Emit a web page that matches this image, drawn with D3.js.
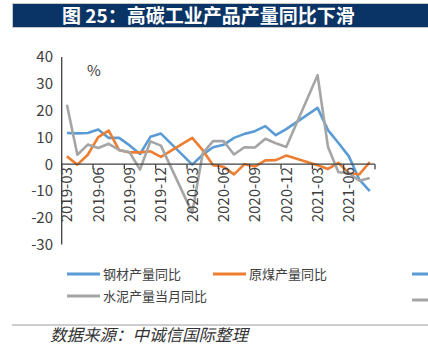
<!DOCTYPE html>
<html>
<head>
<meta charset="utf-8">
<script src="https://cdn.jsdelivr.net/npm/d3@7"></script>
<style>
  body { margin: 0; background: #fff; }
  text { font-family: "Noto Sans CJK SC", "Noto Sans", sans-serif; }
</style>
</head>
<body>
<div id="chart"></div>
<script>
const months = ["2019-03", "2019-04", "2019-05", "2019-06", "2019-07", "2019-08", "2019-09", "2019-10", "2019-11", "2019-12",
    "2020-01", "2020-02", "2020-03", "2020-04", "2020-05", "2020-06", "2020-07", "2020-08", "2020-09", "2020-10",
    "2020-11", "2020-12", "2021-01", "2021-02", "2021-03", "2021-04", "2021-05", "2021-06", "2021-07", "2021-08"];

// 1-2月无单月数据
const steel = [11.6, 11.5, 11.6, 12.9, 9.8, 9.8, 7.0, 3.8, 10.2, 11.4, null, null,
    -0.2, 3.5, 6.3, 7.2, 9.8, 11.3, 12.3, 14.2, 10.8, 13.1, null, null,
    21.0, 12.7, 7.9, 2.9, -5.8, -10.1];
const coal = [2.9, -0.2, 3.5, 10.1, 12.5, 5.2, 4.4, 4.4, 4.8, 2.7, null, null,
    9.8, 5.2, -0.4, -1.0, -3.8, 0.0, -0.9, 1.4, 1.5, 3.2, null, null,
    -0.4, -1.8, 0.5, -3.4, -3.8, 0.8];
const cement = [22.2, 3.5, 7.3, 6.0, 7.6, 5.3, 4.4, -2.0, 8.5, 6.9, null, null,
    -18.2, 4.0, 8.6, 8.6, 3.6, 6.3, 6.2, 9.5, 7.8, 6.4, null, null,
    33.2, 6.4, -3.0, -3.3, -6.2, -5.2];

const yTicks = [40, 30, 20, 10, 0, -10, -20, -30];

const series = [
    { name: '钢材产量同比', values: steel, color: '#5b9bd5' },
    { name: '原煤产量同比', values: coal, color: '#ed7d31' },
    { name: '水泥产量当月同比', values: cement, color: '#a5a5a5' }
];

const width = 428, height = 347;

const svg = d3.select('#chart')
    .append('svg')
    .attr('width', width)
    .attr('height', height);

// title bar
svg.append('rect')
    .attr('x', 12.5).attr('y', 3.5)
    .attr('width', 420).attr('height', 24)
    .attr('fill', '#0b3466')
    .attr('stroke', '#c8c8c8');

svg.append('text')
    .attr('x', 62).attr('y', 22.5)
    .attr('fill', '#fff')
    .attr('font-size', '19px')
    .attr('font-weight', 'bold')
    .text('图 25：高碳工业产品产量同比下滑');

const x = d3.scaleBand()
    .domain(months)
    .range([61.7, 375]);

const y = d3.scaleLinear()
    .domain([-30, 40])
    .range([244.5, 57]);

const cx = m => x(m) + x.bandwidth() / 2;

// y labels
svg.append('g')
    .selectAll('text')
    .data(yTicks)
    .enter()
    .append('text')
    .attr('x', 53)
    .attr('y', d => y(d))
    .attr('dy', '0.36em')
    .attr('text-anchor', 'end')
    .attr('font-size', '15px')
    .attr('fill', '#404040')
    .text(d => d);

// y axis line
svg.append('line')
    .attr('x1', x.range()[0]).attr('x2', x.range()[0])
    .attr('y1', y(40)).attr('y2', y(-30))
    .attr('stroke', '#404040')
    .attr('stroke-width', 1.3);

svg.append('text')
    .attr('x', 87).attr('y', 76)
    .attr('font-size', '15px')
    .attr('fill', '#404040')
    .text('%');

// lines
const line = d3.line()
    .x(d => cx(d.m))
    .y(d => y(d.v))
    .curve(d3.curveLinear);

series.forEach(s => {
    const pts = months.map((m, i) => ({ m: m, v: s.values[i] }))
        .filter(d => d.v !== null);
    svg.append('path')
        .datum(pts)
        .attr('d', line)
        .attr('fill', 'none')
        .attr('stroke', s.color)
        .attr('stroke-width', 2.6)
        .attr('stroke-linejoin', 'round');
});

// x axis
const tickMonths = months.filter((m, i) => i % 3 === 0);
const tickX = tickMonths.map(m => x(m)).concat([x.range()[1]]);

svg.append('line')
    .attr('x1', x.range()[0]).attr('x2', x.range()[1])
    .attr('y1', y(0)).attr('y2', y(0))
    .attr('stroke', '#404040')
    .attr('stroke-width', 1.3);

svg.append('g')
    .selectAll('line')
    .data(tickX)
    .enter()
    .append('line')
    .attr('x1', d => d).attr('x2', d => d)
    .attr('y1', y(0)).attr('y2', y(0) + 5)
    .attr('stroke', '#404040')
    .attr('stroke-width', 1.3);

svg.append('g')
    .selectAll('text')
    .data(tickMonths)
    .enter()
    .append('text')
    .attr('transform', d => `translate(${x(d) + 10.5},${y(0) + 3}) rotate(-90)`)
    .attr('text-anchor', 'end')
    .attr('font-size', '15px')
    .attr('fill', '#404040')
    .text(d => d);

// legend
const legendPos = [
    { x: 67, y: 274 },
    { x: 213, y: 274 },
    { x: 67, y: 296 }
];

series.forEach((s, i) => {
    const p = legendPos[i];
    svg.append('line')
        .attr('x1', p.x).attr('x2', p.x + 33)
        .attr('y1', p.y).attr('y2', p.y)
        .attr('stroke', s.color)
        .attr('stroke-width', 3);
    svg.append('text')
        .attr('x', p.x + 36).attr('y', p.y)
        .attr('dy', '0.36em')
        .attr('font-size', '13px')
        .attr('fill', '#404040')
        .text(s.name);
});

// cut-off legend swatches at the right edge
[{ c: '#5b9bd5', y: 274 }, { c: '#a5a5a5', y: 300 }].forEach(d => {
    svg.append('line')
        .attr('x1', 412).attr('x2', 445)
        .attr('y1', d.y).attr('y2', d.y)
        .attr('stroke', d.c)
        .attr('stroke-width', 3);
});

// separator & source
svg.append('line')
    .attr('x1', 12).attr('x2', width)
    .attr('y1', 325).attr('y2', 325)
    .attr('stroke', '#bdbdbd')
    .attr('stroke-width', 1.5);

svg.append('text')
    .attr('x', 50).attr('y', 341)
    .attr('font-size', '16.5px')
    .attr('font-style', 'italic')
    .attr('fill', '#333')
    .text('数据来源：中诚信国际整理');
</script>
</body>
</html>
